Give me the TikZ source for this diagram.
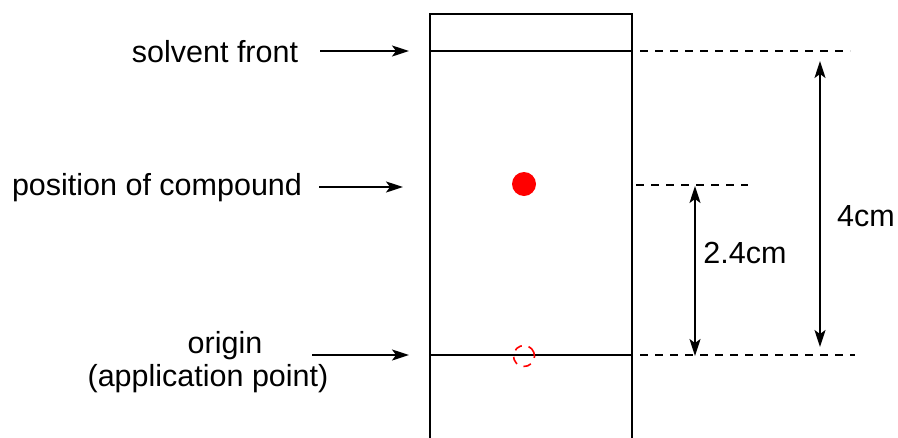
\documentclass[tikz,border=0pt]{standalone}
\usepackage{fontspec}
\setmainfont{Liberation Sans}
\usetikzlibrary{arrows.meta}
\begin{document}
\begin{tikzpicture}[x=1pt,y=-1pt,
  lbl/.style={font=\fontsize{30.5}{34}\selectfont, inner sep=0pt, align=center},
  arr/.style={line width=2pt, -{Stealth[length=17pt,width=11pt,inset=4pt]}},
  darr/.style={line width=2pt, {Stealth[length=17pt,width=11pt,inset=4pt]}-{Stealth[length=17pt,width=11pt,inset=4pt]}},
  dashline/.style={line width=1.8pt, dash pattern=on 8pt off 7pt},
  plate/.style={line width=1.8pt},
  mark line/.style={line width=2.4pt}]
\useasboundingbox (0,0) rectangle (898,437);
% plate
\draw[plate] (430,438) -- (430,14) -- (632,14) -- (632,438);
\coordinate (sfL) at (430,51);
\coordinate (sfR) at (632,51);
\coordinate (orL) at (430,355);
\coordinate (orR) at (632,355);
\draw[mark line] (sfL) -- (sfR);
\draw[mark line] (orL) -- (orR);
% spots
\node[circle, fill=red, minimum size=24pt, inner sep=0pt] (spot) at (524,184) {};
\node[circle, draw=red, line width=1.6pt, dash pattern=on 8pt off 7pt, rotate=20, minimum size=21pt, inner sep=0pt] (orig) at (524,356) {};
% dashed extensions
\coordinate (d1a) at (640,51); \coordinate (d1b) at (850,51);
\coordinate (d2a) at (636,185); \coordinate (d2b) at (748,185);
\coordinate (d3a) at (640,355); \coordinate (d3b) at (855,355);
\draw[dashline] (d1a) -- (d1b);
\draw[dashline] (d2a) -- (d2b);
\draw[dashline] (d3a) -- (d3b);
% dimension arrows
\coordinate (a4t) at (820,61); \coordinate (a4b) at (820,347);
\coordinate (a2t) at (695,186); \coordinate (a2b) at (695,356);
\draw[darr] (a4t) -- (a4b);
\draw[darr] (a2t) -- (a2b);
\node[lbl] (l4) at (866,216) {4cm};
\node[lbl] (l24) at (745,253) {2.4cm};
% left labels
\node[lbl] (tsf) at (215,52) {solvent front};
\node[lbl] (tpc) at (157,188) {position of compound};
\node[lbl, anchor=base] (tor) at (225,353) {origin};
\node[lbl, anchor=base] (tap) at (208,386) {(application point)};
\coordinate (s1) at (320,51); \coordinate (e1) at (409,51);
\coordinate (s2) at (319,187); \coordinate (e2) at (403,187);
\coordinate (s3) at (312,355); \coordinate (e3) at (409,355);
\draw[arr] (s1) -- (e1);
\draw[arr] (s2) -- (e2);
\draw[arr] (s3) -- (e3);
\end{tikzpicture}
\end{document}
